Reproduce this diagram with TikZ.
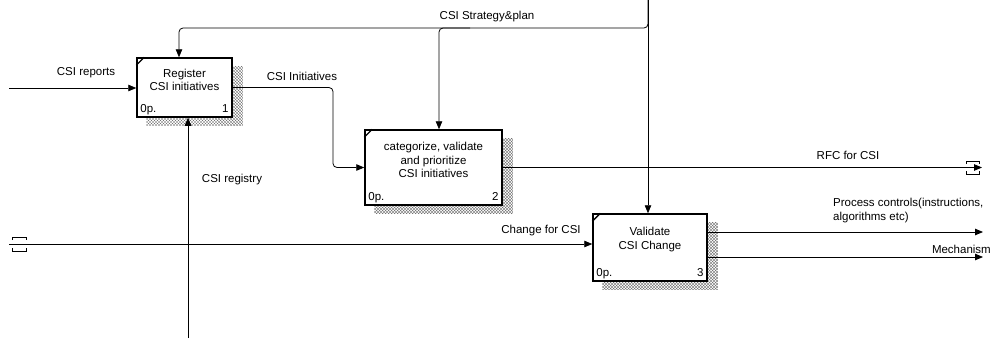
\documentclass[tikz,border=0pt]{standalone}
\usepackage{fontspec}
\setmainfont{Liberation Sans}
\usetikzlibrary{arrows.meta,patterns,calc}
\pgfdeclarepatternformonly{finehatch}{\pgfpoint{-0.5pt}{-0.5pt}}{\pgfpoint{3.5pt}{3.5pt}}{\pgfpoint{3pt}{3pt}}{%
  \pgfsetlinewidth{0.35pt}%
  \pgfpathmoveto{\pgfpoint{0pt}{0pt}}\pgfpathlineto{\pgfpoint{3pt}{3pt}}%
  \pgfpathmoveto{\pgfpoint{0pt}{3pt}}\pgfpathlineto{\pgfpoint{3pt}{0pt}}%
  \pgfusepath{stroke}}
\pgfdeclarelayer{background}
\pgfsetlayers{background,main}
\begin{document}
\begin{tikzpicture}[x=1pt,y=-1pt,
  lbl/.style={font=\fontsize{11.5}{13.5}\selectfont, inner sep=0pt},
  func/.style={draw, line width=1.5pt, fill=white, inner sep=0pt},
  arr/.style={line width=0.8pt, -{Triangle[length=8pt,width=6.5pt]}},
  ln/.style={line width=0.8pt},
  shad/.style={pattern=finehatch, pattern color=black!55}]
\useasboundingbox (0,0) rectangle (999,338);

% boxes
\node[func, minimum width=95pt, minimum height=59pt] (b1) at (184.5,87.5) {};
\node[func, minimum width=137pt, minimum height=75pt] (b2) at (433.5,167.5) {};
\node[func, minimum width=114pt, minimum height=67pt] (b3) at (650,247.5) {};

\begin{pgfonlayer}{background}
\foreach \b in {b1,b2,b3}{
  \fill[shad] ($(\b.north west)+(10,9)$) rectangle ($(\b.south east)+(10,8)$);
}
\end{pgfonlayer}

\foreach \b in {b1,b2,b3}{
  \draw[line width=1.4pt] ($(\b.north west)+(0,8)$) -- ($(\b.north west)+(8,0)$);
  \node[lbl, anchor=base west] at ($(\b.south west)+(4,-5)$) {0p.};
}
\node[lbl, anchor=base east] at ($(b1.south east)+(-4,-5)$) {1};
\node[lbl, anchor=base east] at ($(b2.south east)+(-4,-5)$) {2};
\node[lbl, anchor=base east] at ($(b3.south east)+(-4,-5)$) {3};

\node[lbl, align=center] (t1) at ($(b1.center)+(0,-7.5)$) {Register\\CSI initiatives};
\node[lbl, align=center] (t2) at ($(b2.center)+(0,-7.5)$) {categorize, validate\\and prioritize\\CSI initiatives};
\node[lbl, align=center] (t3) at ($(b3.center)+(0,-8)$) {Validate\\CSI Change};

% free ends
\coordinate (inR) at (9,88);
\coordinate (regB) at (188,338);
\coordinate (stratT) at (648,0);
\coordinate (rfcE) at (982,167.5);
\coordinate (chgW) at (9,244);
\coordinate (pcE) at (983,232);
\coordinate (mechE) at (983,257);

% connectors
\draw[arr] (inR) -- (inR -| b1.west);
\draw[arr] (regB) -- (regB |- b1.south);
\draw[arr] (stratT) -- (stratT |- b3.north);
\draw[arr, rounded corners=4pt] (stratT) |- (179,28) -- ([xshift=-5.5pt]b1.north);
\draw[arr, rounded corners=4pt] (470,28) -| ([xshift=5.5pt]b2.north);
\draw[arr, rounded corners=4pt] (b1.east) -| (333,120) |- (b2.west);
\draw[arr] (b2.east) -- (rfcE);
\draw[arr] (chgW) -- (chgW -| b3.west);
\draw[arr] (pcE -| b3.east) -- (pcE);
\draw[arr] (mechE -| b3.east) -- (mechE);

% tunnels
\draw[ln] (966,164) -- (966,161) -- (979,161) -- (979,164);
\draw[ln] (966,171) -- (966,174) -- (979,174) -- (979,171);
\draw[ln] (12,240) -- (12,237) -- (26,237) -- (26,240);
\draw[ln] (12,248) -- (12,251) -- (26,251) -- (26,248);

% labels
\node[lbl] (lrep) at (86,73) {CSI reports};
\node[lbl] (lini) at (302,76) {CSI Initiatives};
\node[lbl] (lstr) at (487,17) {CSI Strategy\&plan};
\node[lbl] (lreg) at (232,180) {CSI registry};
\node[lbl] (lrfc) at (848,155) {RFC for CSI};
\node[lbl] (lchg) at (541,231) {Change for CSI};
\node[lbl, align=left, anchor=west] (lpc) at (833,210.5) {Process controls(instructions,\\algorithms etc)};
\node[lbl, anchor=east] (lmech) at (991,249) {Mechanism};
\end{tikzpicture}
\end{document}
